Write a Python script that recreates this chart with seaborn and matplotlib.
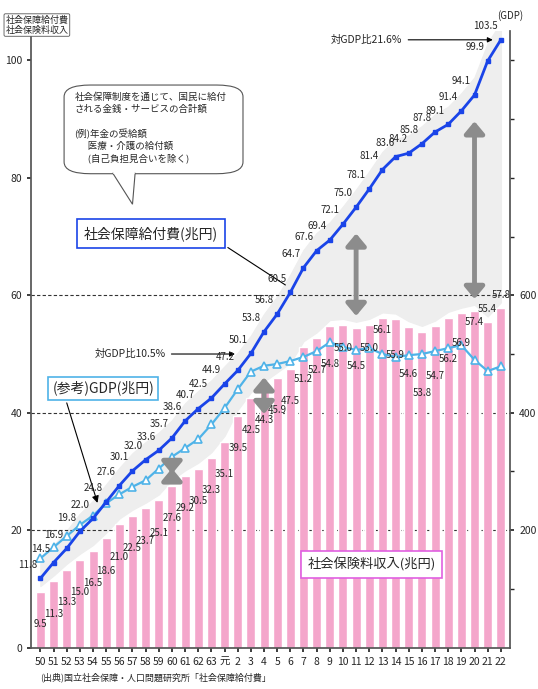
import numpy as np
import pandas as pd
import matplotlib
matplotlib.use("Agg")
import matplotlib.pyplot as plt
import seaborn as sns
from matplotlib.patches import FancyBboxPatch, Polygon

# 年度（昭和50〜63、平成元〜22）
years = ["50", "51", "52", "53", "54", "55", "56", "57", "58", "59", "60", "61", "62", "63",
         "元", "2", "3", "4", "5", "6", "7", "8", "9", "10", "11", "12", "13", "14", "15",
         "16", "17", "18", "19", "20", "21", "22"]
# 社会保障給付費（兆円）
benefits = [11.8, 14.5, 16.9, 19.8, 22.0, 24.8, 27.6, 30.1, 32.0, 33.6, 35.7, 38.6, 40.7, 42.5,
            44.9, 47.2, 50.1, 53.8, 56.8, 60.5, 64.7, 67.6, 69.4, 72.1, 75.0, 78.1, 81.4, 83.6,
            84.2, 85.8, 87.8, 89.1, 91.4, 94.1, 99.9, 103.5]
# 社会保険料収入（兆円）
contrib = [9.5, 11.3, 13.3, 15.0, 16.5, 18.6, 21.0, 22.5, 23.7, 25.1, 27.6, 29.2, 30.5, 32.3,
           35.1, 39.5, 42.5, 44.3, 45.9, 47.5, 51.2, 52.7, 54.8, 55.0, 54.5, 55.0, 56.1, 55.9,
           54.6, 53.8, 54.7, 56.2, 56.9, 57.4, 55.4, 57.8]
# GDP（兆円）
gdp = [152, 171, 190, 209, 225, 246, 261, 274, 285, 305, 325, 340, 355, 380, 408, 440, 470,
       480, 483, 488, 495, 505, 520, 512, 507, 510, 500, 495, 498, 500, 505, 510, 515, 490,
       471, 479]

sns.set_theme(style="white")
plt.rcParams['font.family'] = ['Noto Sans CJK JP', 'DejaVu Sans']

n = len(years)
x = np.arange(n)
df = pd.DataFrame({"year": years, "contrib": contrib})

fig = plt.figure(figsize=(5.38, 6.89), dpi=100)
ax = fig.add_axes([0.058, 0.06, 0.89, 0.895])

# gray background band
ax.fill_between(x, np.array(contrib) + 1, np.array(benefits) + 3, color="#eeeeee", zorder=0)

sns.barplot(data=df, x="year", y="contrib", color="#f4a6cb", saturation=1, width=0.68,
            ax=ax, zorder=2)

ax.plot(x, np.array(gdp) / 10, color="#4fb3e8", lw=1.6, marker="^", ms=6,
        mfc="white", mec="#4fb3e8", mew=1.2, zorder=4)
ax.plot(x, benefits, color="#1a44e8", lw=2, marker="s", ms=3.5, zorder=5)

for i, v in enumerate(benefits):
    dx = -0.1 if i in (27, 28) else -0.25
    ax.text(i + dx, v + 1.5, f"{v:.1f}", ha="right", va="bottom", fontsize=7, zorder=6)

late_off = [-6.5, -4, -6.5, -4, -2, -6, -8, -10.5, -8.5, -7, -5, -2, 2.3, 2.2]
for i, v in enumerate(contrib):
    off = -5.5 if i < 22 else late_off[i - 22]
    ax.text(i, v + off, f"{v:.1f}", ha="center", va="center", fontsize=7, zorder=6)

# double arrows (gap between benefits / GDP and contributions)
arrow_idx = [10, 17, 24, 33]
for i in arrow_idx:
    if i == 10:
        lo, hi = contrib[i] + 1.5, gdp[i] / 10 - 1.5
    elif i == 17:
        lo, hi = contrib[i] - 5, gdp[i] / 10 - 1.5
    else:
        lo, hi = contrib[i] + 1.5, benefits[i] - 4
    ax.annotate("", xy=(i, lo), xytext=(i, hi),
                arrowprops=dict(arrowstyle="<|-|>,head_width=0.5,head_length=0.6",
                                color="#8c8c8c", lw=3.5), zorder=7)

for y in [20, 40, 60]:
    ax.axhline(y, color="#333333", ls=(0, (3, 2)), lw=0.8, zorder=1)

ax.set_xlim(-0.7, n - 0.3)
ax.set_ylim(0, 105)
ax.set_yticks([0, 20, 40, 60, 80, 100])
ax.set_xlabel("")
ax.set_ylabel("")
ax.tick_params(labelsize=7.5, length=3)
ax.tick_params(axis="x", bottom=True)
for s in ["top", "right"]:
    ax.spines[s].set_visible(False)
ax.spines["left"].set_color("#555555")
ax.spines["bottom"].set_color("#555555")

ax2 = ax.twinx()
ax2.set_ylim(0, 1050)
ax2.set_yticks([200, 400, 600])
ax2.set_yticks([100, 300, 500, 700, 800, 900, 1000], minor=True)
ax2.tick_params(labelsize=7.5, length=3, which="both", right=True)
for s in ["top", "left", "bottom"]:
    ax2.spines[s].set_visible(False)
ax2.spines["right"].set_color("#555555")
ax2.grid(False)
ax2.text(1.0, 1.02, "(GDP)", transform=ax2.transAxes, ha="center", fontsize=7)

fig.text(0.01, 0.978, "社会保障給付費\n社会保険料収入", fontsize=6.5, va="top",
         bbox=dict(boxstyle="round,pad=0.15", fc="white", ec="#555555", lw=0.6))

# annotations
ax.annotate("対GDP比10.5%", xy=(15, 50), xytext=(9.5, 50), fontsize=7.5, va="center",
            ha="right", arrowprops=dict(arrowstyle="-|>", color="black", lw=0.8))
ax.annotate("対GDP比21.6%", xy=(34.6, 103.5), xytext=(27.5, 103.5), fontsize=7.5,
            va="center", ha="right", arrowprops=dict(arrowstyle="-|>", color="black", lw=0.8))
ax.annotate("社会保障給付費(兆円)", xy=(18.8, 61.5), xytext=(3.3, 70.5), fontsize=10,
            va="center", ha="left",
            bbox=dict(boxstyle="square,pad=0.5", fc="white", ec="#1a44e8", lw=1.2),
            arrowprops=dict(arrowstyle="-", color="black", lw=0.8, relpos=(1, 0)))
ax.annotate("(参考)GDP(兆円)", xy=(4.4, 24.2), xytext=(0.9, 44.2), fontsize=10,
            va="center", ha="left",
            bbox=dict(boxstyle="square,pad=0.3", fc="white", ec="#4fb3e8", lw=1.2),
            arrowprops=dict(arrowstyle="-|>", color="black", lw=0.8, relpos=(0.12, 0)))
ax.text(20.3, 14.2, "社会保険料収入(兆円)", fontsize=9.5, va="center", ha="left", zorder=8,
        bbox=dict(boxstyle="square,pad=0.5", fc="white", ec="#e060e0", lw=1.2))

bubble = FancyBboxPatch((2.1, 81), 13.0, 14.5, boxstyle="round,pad=0.3,rounding_size=2",
                        fc="white", ec="#555555", lw=0.8, zorder=8)
ax.add_patch(bubble)
ax.add_patch(Polygon([[5.5, 80.8], [7.2, 80.8], [7.0, 75.5]], closed=True, fc="white",
                     ec="#555555", lw=0.8, zorder=9))
ax.plot([5.6, 7.1], [80.9, 80.9], color="white", lw=1.5, zorder=10)
ax.text(2.6, 94.5, "社会保障制度を通じて、国民に給付\nされる金銭・サービスの合計額\n\n"
        "(例)年金の受給額\n      医療・介護の給付額\n      (自己負担見合いを除く)",
        fontsize=6.8, va="top", ha="left", zorder=11, linespacing=1.35)

fig.text(0.075, 0.012, "(出典)国立社会保障・人口問題研究所「社会保障給付費」", fontsize=6.5)

fig.savefig("out.png", dpi=100)
